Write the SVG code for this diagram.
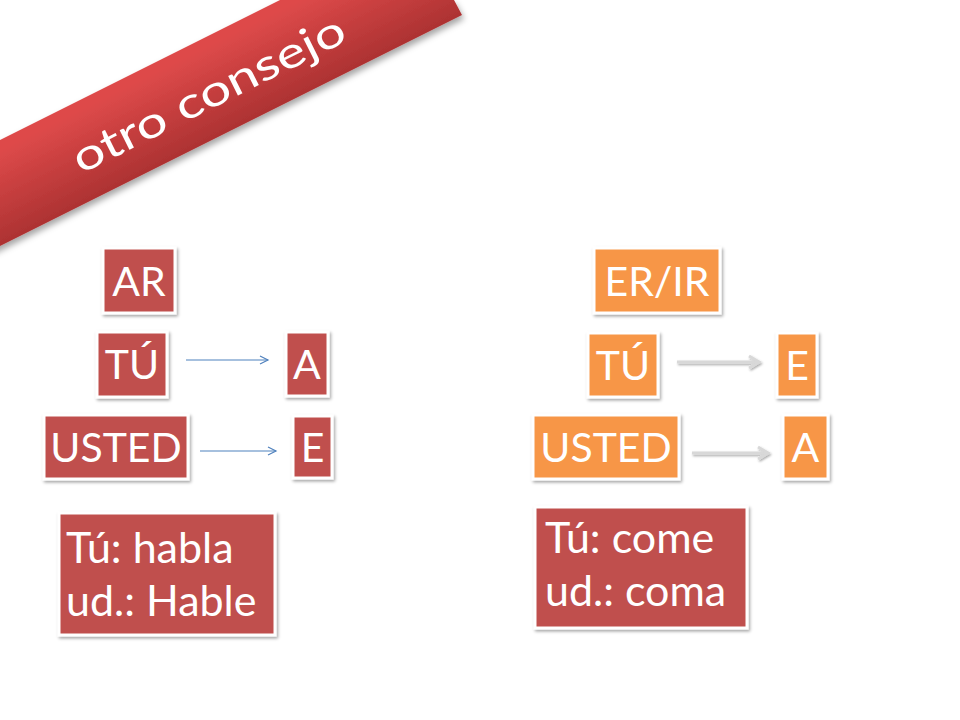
<svg xmlns="http://www.w3.org/2000/svg" width="960" height="720" viewBox="0 0 960 720">
<defs>
<style>
.lbl{font-family:Lato,"Liberation Sans",sans-serif;font-size:41px;fill:#fff;text-anchor:middle}
.big{font-family:Lato,"Liberation Sans",sans-serif;font-size:43px;fill:#fff}
.red{fill:#C0504D;stroke:#fff;stroke-width:3;filter:url(#sh)}
.org{fill:#F79646;stroke:#fff;stroke-width:3;filter:url(#sh)}
.ab{stroke:#4F81BD;stroke-width:1.2;fill:none}
.ag{stroke:#D8D8D8;stroke-width:3;fill:none;filter:url(#sh2)}
</style>
<filter id="sh" x="-20%" y="-20%" width="140%" height="140%">
<feDropShadow dx="1.5" dy="2" stdDeviation="1.5" flood-color="#000" flood-opacity="0.35"/>
</filter>
<filter id="sh2" filterUnits="userSpaceOnUse" x="0" y="0" width="960" height="720">
<feDropShadow dx="1" dy="1.5" stdDeviation="1" flood-color="#000" flood-opacity="0.35"/>
</filter>
<filter id="bsh" x="-20%" y="-20%" width="140%" height="160%">
<feDropShadow dx="2" dy="4" stdDeviation="3" flood-color="#000" flood-opacity="0.35"/>
</filter>
<linearGradient id="band" gradientUnits="userSpaceOnUse" x1="180" y1="60" x2="222" y2="144">
<stop offset="0" stop-color="#DE4A4A"/>
<stop offset="1" stop-color="#A83030"/>
</linearGradient>
<marker id="mb" markerWidth="12" markerHeight="12" refX="10" refY="6" orient="auto" markerUnits="userSpaceOnUse">
<path d="M2,2 L10,6 L2,10" fill="none" stroke="#4F81BD" stroke-width="1.2"/>
</marker>
<marker id="mg" markerWidth="16" markerHeight="16" refX="13" refY="8" orient="auto" markerUnits="userSpaceOnUse">
<path d="M3,2 L13,8 L3,14" fill="none" stroke="#D8D8D8" stroke-width="3"/>
</marker>
</defs>
<rect width="960" height="720" fill="#fff"/>
<g id="banner">
<polygon points="-20,150 280,0 454,0 462,15 -20,256" fill="url(#band)" filter="url(#bsh)"/>
<text class="big" font-size="62" text-anchor="middle" x="207" y="109" textLength="300" lengthAdjust="spacingAndGlyphs" transform="rotate(-26.565 207 91)">otro consejo</text>
</g>
<g id="ar"><rect class="red" x="103" y="248" width="72" height="65"/><text class="lbl" x="139" y="296">AR</text></g>
<g id="tu-l"><rect class="red" x="97" y="332" width="70" height="65"/><text class="lbl" x="132" y="379">TÚ</text></g>
<g id="a-l"><rect class="red" x="286" y="332" width="42" height="64"/><text class="lbl" x="307" y="379">A</text></g>
<g id="usted-l"><rect class="red" x="44" y="415" width="144" height="64"/><text class="lbl" x="116" y="462">USTED</text></g>
<g id="e-l"><rect class="red" x="293" y="416" width="39" height="62"/><text class="lbl" x="312.5" y="462">E</text></g>
<g id="erir"><rect class="org" x="594" y="248" width="126" height="65"/><text class="lbl" x="657" y="296">ER/IR</text></g>
<g id="tu-r"><rect class="org" x="588" y="333" width="70" height="64"/><text class="lbl" x="623" y="380">TÚ</text></g>
<g id="e-r"><rect class="org" x="777" y="333" width="40" height="64"/><text class="lbl" x="797" y="380">E</text></g>
<g id="usted-r"><rect class="org" x="533" y="415" width="146" height="64"/><text class="lbl" x="606" y="462">USTED</text></g>
<g id="a-r"><rect class="org" x="783" y="415" width="45" height="64"/><text class="lbl" x="805.5" y="462">A</text></g>
<g id="ex-l"><rect class="red" x="59" y="513" width="216" height="122"/>
<text class="big" x="66" y="563">Tú: habla</text><text class="big" x="66" y="616">ud.: Hable</text></g>
<g id="ex-r"><rect class="red" x="535" y="507" width="212" height="121"/>
<text class="big" x="545" y="553">Tú: come</text><text class="big" x="545" y="606">ud.: coma</text></g>
<g id="connectors">
<line class="ab" x1="186" y1="360" x2="268" y2="360" marker-end="url(#mb)"/>
<line class="ab" x1="200" y1="451" x2="276" y2="451" marker-end="url(#mb)"/>
<line class="ag" x1="677" y1="362" x2="759" y2="362" marker-end="url(#mg)"/>
<line class="ag" x1="692" y1="453" x2="768" y2="453" marker-end="url(#mg)"/>
</g>
</svg>
